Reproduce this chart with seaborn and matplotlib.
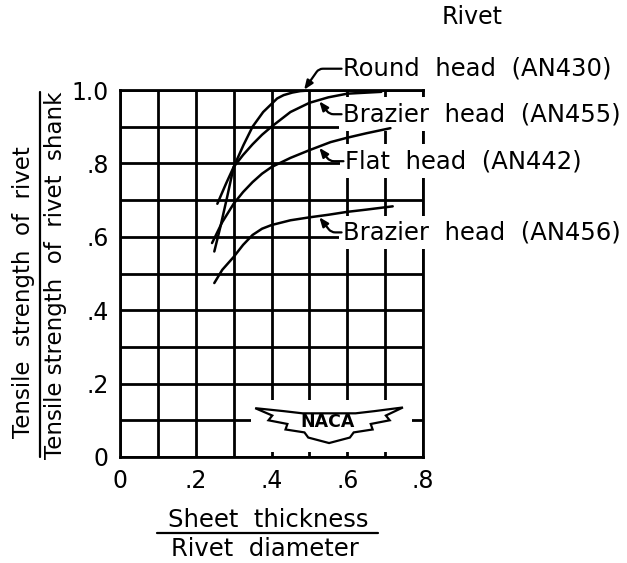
import numpy as np
import pandas as pd
import matplotlib
matplotlib.use("Agg")
import matplotlib.pyplot as plt
from matplotlib.lines import Line2D
from matplotlib.patches import Polygon, Rectangle
import seaborn as sns

# Sheet thickness / rivet diameter vs. tensile strength ratio, per rivet head type
round_head_x = [0.249, 0.265, 0.283, 0.30, 0.326, 0.35, 0.378, 0.40, 0.415, 0.432, 0.455, 0.476, 0.52, 0.60]
round_head_y = [0.56, 0.627, 0.709, 0.79, 0.85, 0.90, 0.94, 0.962, 0.977, 0.986, 0.993, 0.997, 1.0, 1.0]

brazier455_x = [0.257, 0.28, 0.30, 0.325, 0.35, 0.375, 0.40, 0.45, 0.50, 0.55, 0.60, 0.69]
brazier455_y = [0.69, 0.745, 0.79, 0.823, 0.852, 0.878, 0.90, 0.94, 0.965, 0.98, 0.99, 0.995]

flat442_x = [0.243, 0.27, 0.30, 0.325, 0.35, 0.375, 0.40, 0.45, 0.50, 0.556, 0.60, 0.65, 0.714]
flat442_y = [0.583, 0.64, 0.69, 0.722, 0.749, 0.772, 0.79, 0.815, 0.836, 0.858, 0.87, 0.882, 0.896]

brazier456_x = [0.249, 0.27, 0.30, 0.325, 0.35, 0.375, 0.40, 0.45, 0.50, 0.55, 0.60, 0.65, 0.72]
brazier456_y = [0.474, 0.51, 0.545, 0.578, 0.605, 0.622, 0.632, 0.645, 0.653, 0.66, 0.668, 0.674, 0.683]

series_names = ["Round  head  (AN430)", "Brazier  head  (AN455)",
                "Flat  head  (AN442)", "Brazier  head  (AN456)"]
series_x = [round_head_x, brazier455_x, flat442_x, brazier456_x]
series_y = [round_head_y, brazier455_y, flat442_y, brazier456_y]

# label anchors (data units), where each leader meets its curve, and leader slant
label_pos = [(0.59, 1.058), (0.59, 0.934), (0.595, 0.806), (0.59, 0.612)]
leader_x = [0.484, 0.524, 0.524, 0.524]
leader_angle = [55, -52, -52, -52]

x_ticks = [0.0, 0.1, 0.2, 0.3, 0.4, 0.5, 0.6, 0.7, 0.8]
x_tick_labels = ["0", "", ".2", "", ".4", "", ".6", "", ".8"]
y_ticks = [0.0, 0.1, 0.2, 0.3, 0.4, 0.5, 0.6, 0.7, 0.8, 0.9, 1.0]
y_tick_labels = ["0", "", ".2", "", ".4", "", ".6", "", ".8", "", "1.0"]

frames = []
for name, xs, ys in zip(series_names, series_x, series_y):
    frames.append(pd.DataFrame({"ratio": xs, "strength": ys, "rivet": name}))
df = pd.concat(frames, ignore_index=True)

sns.set_theme(style="white")
plt.rcParams["font.family"] = ["DejaVu Sans"]
plt.rcParams["text.color"] = "black"
plt.rcParams["axes.labelcolor"] = "black"
plt.rcParams["xtick.color"] = "black"
plt.rcParams["ytick.color"] = "black"

W, H = 627, 563
fig = plt.figure(figsize=(W / 100, H / 100), dpi=100)
ax = fig.add_axes([120 / W, 1 - 457 / H, 303 / W, 367 / H])

sns.lineplot(data=df, x="ratio", y="strength", hue="rivet", units="rivet",
             estimator=None, sort=False, palette=["black"] * 4, legend=False,
             linewidth=1.8, ax=ax, zorder=6)
for line in ax.lines:
    line.set_solid_joinstyle("round")

ax.set_xlim(0, 0.8)
ax.set_ylim(0, 1.0)
ax.set_xticks(x_ticks)
ax.set_xticklabels(x_tick_labels, fontsize=17)
ax.set_yticks(y_ticks)
ax.set_yticklabels(y_tick_labels, fontsize=17)
ax.tick_params(axis="x", length=0, pad=9)
ax.tick_params(axis="y", length=0, pad=8)
ax.set_xlabel("")
ax.set_ylabel("")
ax.grid(True, color="black", linewidth=2.0)
for sp in ax.spines.values():
    sp.set_color("black")
    sp.set_linewidth(2.0)

# curve labels with bent leaders ending in small arrowheads on the curves
for name, (lx, ly), cx, ang, xs, ys in zip(series_names, label_pos, leader_x,
                                           leader_angle, series_x, series_y):
    cy = float(np.interp(cx, xs, ys))
    ax.text(lx, ly, name, ha="left", va="center", fontsize=17.5, zorder=5,
            clip_on=False,
            bbox=dict(boxstyle="square,pad=0.2", fc="white", ec="none"))
    ax.annotate("", xy=(cx, cy), xytext=(lx - 0.005, ly), annotation_clip=False,
                zorder=7,
                arrowprops=dict(arrowstyle="-|>,head_length=0.45,head_width=0.18",
                                connectionstyle=f"angle,angleA=0,angleB={ang},rad=4",
                                color="black", lw=1.6, shrinkA=0, shrinkB=1))

ax.text(0.929, 1.199, "Rivet", ha="center", va="center", fontsize=17,
        clip_on=False)

# NACA emblem
ax.add_patch(Rectangle((0.345, 0.014), 0.425, 0.141, fc="white", ec="none", zorder=5))
cx0, top0, bot0, half = 0.552, 0.133, 0.038, 0.195
wing = [(cx0 - half, top0), (cx0 - 0.12, top0 - 0.008), (cx0 - 0.07, top0 - 0.014),
        (cx0 + 0.07, top0 - 0.014), (cx0 + 0.12, top0 - 0.008), (cx0 + half, top0 + 0.002),
        (cx0 + 0.15, top0 - 0.02), (cx0 + 0.16, top0 - 0.033), (cx0 + 0.11, top0 - 0.043),
        (cx0 + 0.115, top0 - 0.058), (cx0 + 0.065, top0 - 0.066), (cx0 + 0.055, top0 - 0.08),
        (cx0, bot0),
        (cx0 - 0.055, top0 - 0.08), (cx0 - 0.065, top0 - 0.066), (cx0 - 0.115, top0 - 0.058),
        (cx0 - 0.11, top0 - 0.043), (cx0 - 0.16, top0 - 0.033), (cx0 - 0.15, top0 - 0.02)]
ax.add_patch(Polygon(wing, closed=True, fc="white", ec="black", lw=1.6, zorder=6))
ax.text(cx0 - 0.005, 0.095, "NACA", ha="center", va="center", fontsize=12.5,
        fontweight="bold", zorder=7)

# fraction-style axis titles
fig.text(268 / W, 1 - 520 / H, "Sheet  thickness", ha="center", va="center", fontsize=17.5)
fig.add_artist(Line2D([157 / W, 378 / W], [1 - 533 / H, 1 - 533 / H], color="black", lw=1.6))
fig.text(265 / W, 1 - 549 / H, "Rivet  diameter", ha="center", va="center", fontsize=17.5)

fig.text(24 / W, 1 - 292 / H, "Tensile  strength  of  rivet", ha="center", va="center",
         rotation=90, fontsize=16.5)
fig.add_artist(Line2D([40 / W, 40 / W], [1 - 457 / H, 1 - 92 / H], color="black", lw=1.6))
fig.text(56 / W, 1 - 275 / H, "Tensile strength  of  rivet  shank", ha="center",
         va="center", rotation=90, fontsize=16.5)

fig.savefig("out.png", dpi=100, facecolor="white")
